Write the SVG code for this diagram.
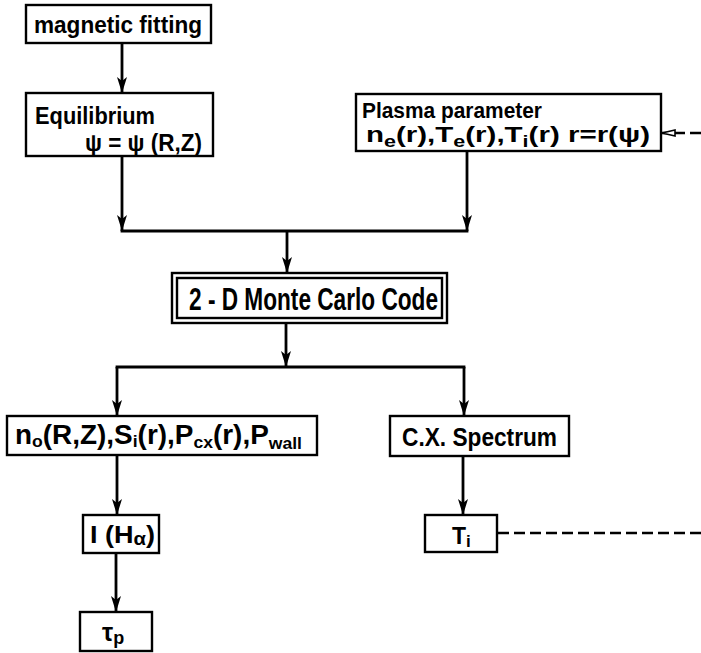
<svg xmlns="http://www.w3.org/2000/svg" width="701" height="653" viewBox="0 0 701 653">
<defs>
<style>
.box{fill:#fff;stroke:#000;stroke-width:2.4}
.t{font-family:"Liberation Sans",Arial,sans-serif;font-weight:bold;fill:#000}
.c{fill:none;stroke:#000;stroke-width:2.8}
.d{fill:none;stroke:#000;stroke-width:2.4;stroke-dasharray:11 5}
</style>
<marker id="ah" markerUnits="userSpaceOnUse" markerWidth="18" markerHeight="12" refX="16" refY="5" orient="auto">
<path d="M0,0 L16,5 L0,10 L4,5 Z" fill="#000"/>
</marker>
<marker id="oh" markerUnits="userSpaceOnUse" markerWidth="16" markerHeight="10" refX="14" refY="4" orient="auto">
<path d="M1,1 L14,4 L1,7 Z" fill="#fff" stroke="#000" stroke-width="1.6"/>
</marker>
</defs>

<g id="connectors">
<line class="c" x1="122" y1="43" x2="122" y2="93" marker-end="url(#ah)"/>
<line class="c" x1="122" y1="156" x2="122" y2="231" marker-end="url(#ah)"/>
<line class="c" x1="467" y1="151" x2="467" y2="231" marker-end="url(#ah)"/>
<line class="c" x1="120.6" y1="231" x2="468.4" y2="231"/>
<line class="c" x1="287" y1="231" x2="287" y2="273" marker-end="url(#ah)"/>
<line class="c" x1="286" y1="323" x2="286" y2="367" marker-end="url(#ah)"/>
<line class="c" x1="115.6" y1="367" x2="465.4" y2="367"/>
<line class="c" x1="117" y1="367" x2="117" y2="416" marker-end="url(#ah)"/>
<line class="c" x1="464" y1="367" x2="464" y2="416" marker-end="url(#ah)"/>
<line class="c" x1="117" y1="455" x2="117" y2="515" marker-end="url(#ah)"/>
<line class="c" x1="116" y1="553" x2="116" y2="612" marker-end="url(#ah)"/>
<line class="c" x1="463" y1="456" x2="463" y2="515" marker-end="url(#ah)"/>
<line class="d" x1="701" y1="133" x2="662" y2="133" marker-end="url(#oh)"/>
<line class="d" x1="498" y1="533" x2="701" y2="533"/>
</g>

<g id="magnetic-fitting">
<rect class="box" x="26" y="5" width="185" height="38"/>
<text class="t" x="34" y="33" font-size="24" textLength="168" lengthAdjust="spacingAndGlyphs">magnetic fitting</text>
</g>

<g id="equilibrium">
<rect class="box" x="26" y="93" width="187" height="63"/>
<text class="t" x="35" y="124" font-size="23" textLength="120" lengthAdjust="spacingAndGlyphs">Equilibrium</text>
<text class="t" x="85" y="151" font-size="23" textLength="117" lengthAdjust="spacingAndGlyphs">ψ = ψ (R,Z)</text>
</g>

<g id="plasma-parameter">
<rect class="box" x="356" y="94" width="305" height="57"/>
<text class="t" x="362" y="118" font-size="22" textLength="180" lengthAdjust="spacingAndGlyphs">Plasma parameter</text>
<text class="t" x="366" y="142" font-size="22" textLength="284" lengthAdjust="spacingAndGlyphs">n<tspan font-size="16" dy="5">e</tspan><tspan dy="-5">(r),T</tspan><tspan font-size="16" dy="5">e</tspan><tspan dy="-5">(r),T</tspan><tspan font-size="16" dy="5">i</tspan><tspan dy="-5">(r) r=r(ψ)</tspan></text>
</g>

<g id="monte-carlo">
<rect class="box" x="172" y="273" width="275" height="50"/>
<rect class="box" x="177" y="278" width="265" height="40" stroke-width="1.6"/>
<text class="t" x="189" y="310" font-size="31" textLength="249" lengthAdjust="spacingAndGlyphs">2 - D Monte Carlo Code</text>
</g>

<g id="neutral-profiles">
<rect class="box" x="7" y="416" width="310" height="39"/>
<text class="t" x="15" y="444" font-size="27" textLength="287" lengthAdjust="spacingAndGlyphs">n<tspan font-size="17" dy="3">o</tspan><tspan dy="-3">(R,Z),S</tspan><tspan font-size="17" dy="3">i</tspan><tspan dy="-3">(r),P</tspan><tspan font-size="17" dy="4">cx</tspan><tspan dy="-4">(r),P</tspan><tspan font-size="17" dy="5">wall</tspan></text>
</g>

<g id="cx-spectrum">
<rect class="box" x="390" y="416" width="179" height="40"/>
<text class="t" x="402" y="446" font-size="26" textLength="155" lengthAdjust="spacingAndGlyphs">C.X. Spectrum</text>
</g>

<g id="h-alpha">
<rect class="box" x="83" y="515" width="76" height="38"/>
<text class="t" x="90" y="543" font-size="24" textLength="65" lengthAdjust="spacingAndGlyphs">I (H<tspan font-size="18" dy="2">α</tspan><tspan dy="-2">)</tspan></text>
</g>

<g id="ti">
<rect class="box" x="425" y="515" width="72" height="37"/>
<text class="t" x="452" y="544" font-size="23">T<tspan font-size="17" dy="3">i</tspan></text>
</g>

<g id="tau-p">
<rect class="box" x="80" y="612" width="72" height="39"/>
<text class="t" x="102" y="641" font-size="25">τ<tspan font-size="18" dy="3">p</tspan></text>
</g>
</svg>
